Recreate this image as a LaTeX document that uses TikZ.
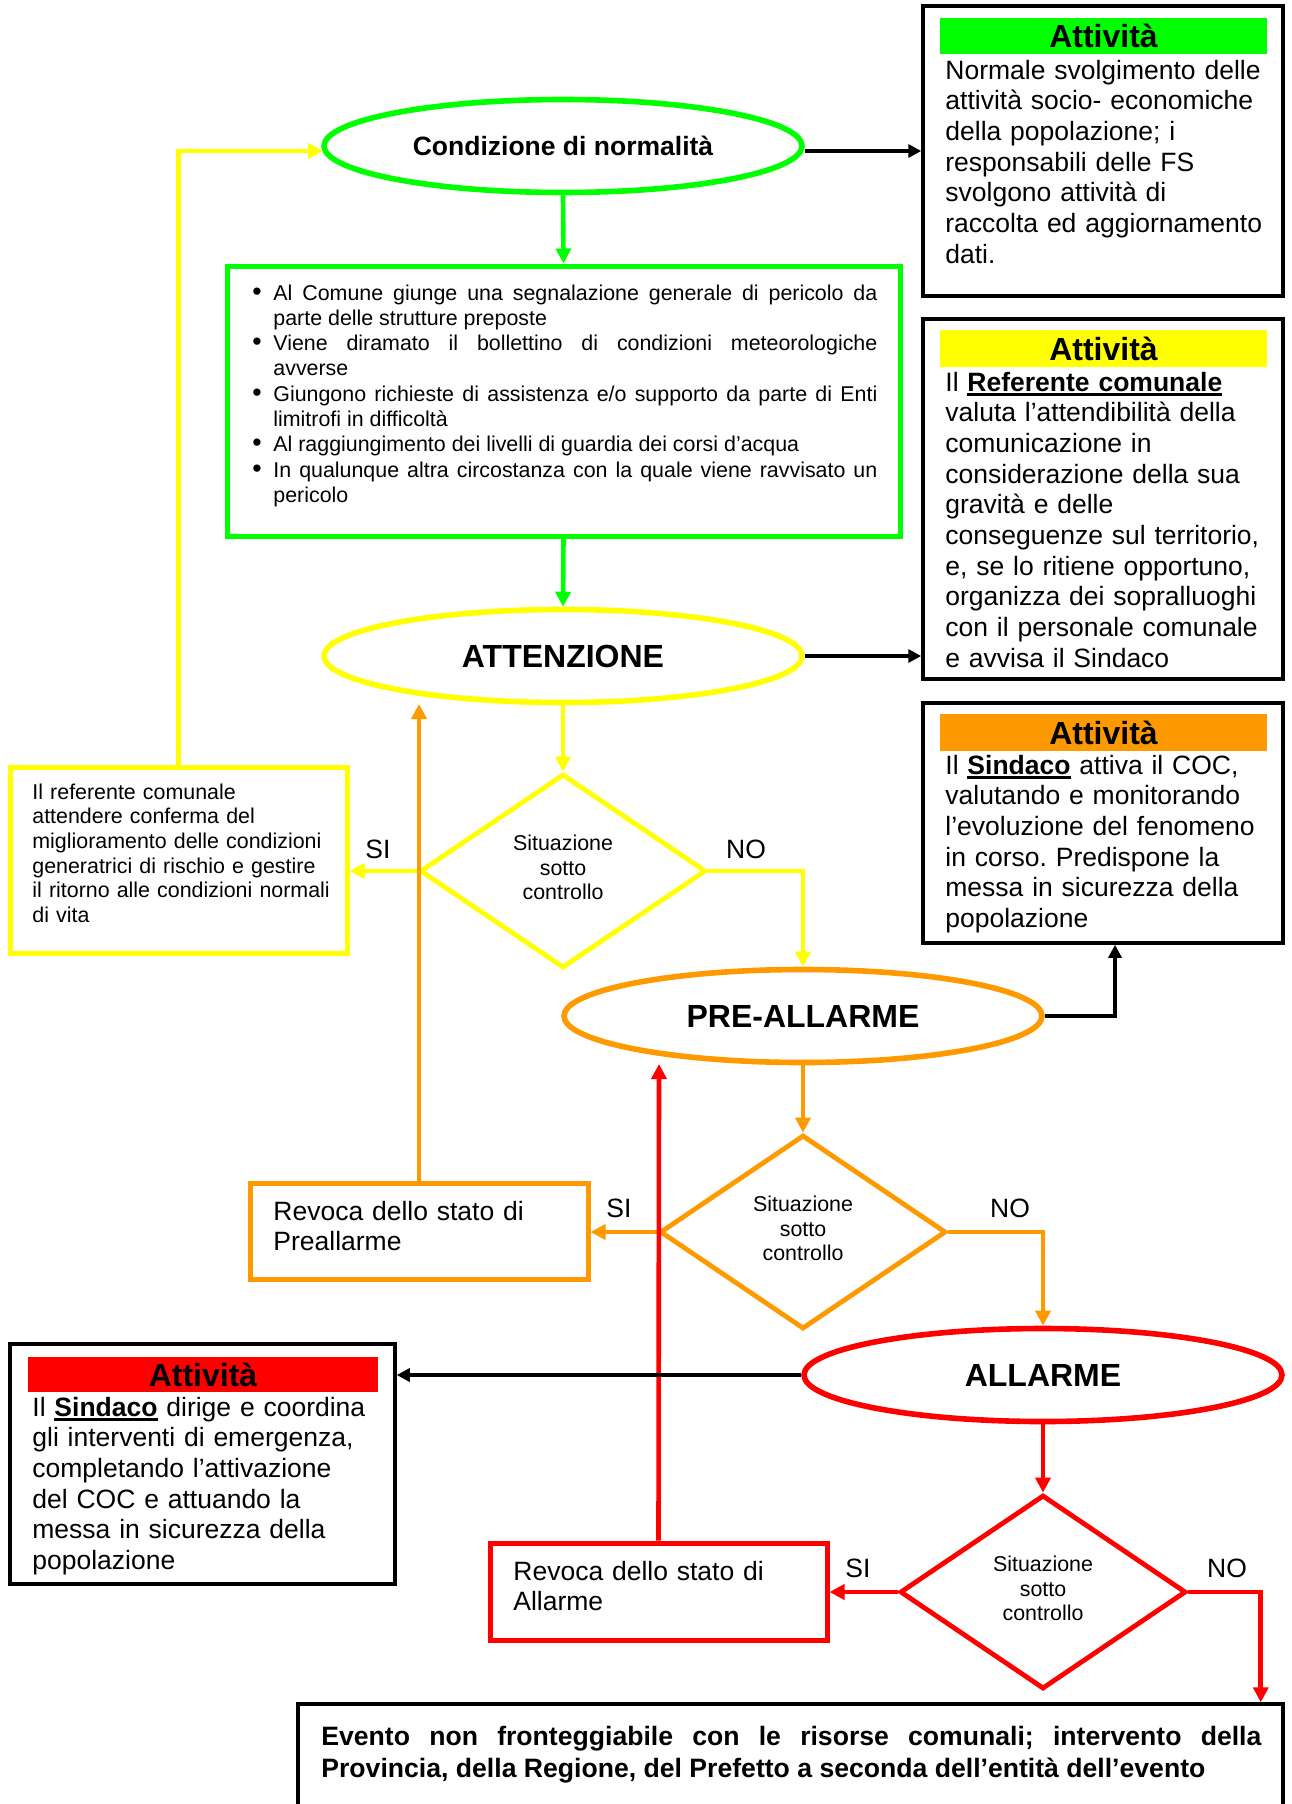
\documentclass[tikz,border=0pt]{standalone}
\usepackage{fontspec}
\setmainfont{Liberation Sans}
\usetikzlibrary{arrows.meta,shapes.geometric,calc}
\frenchspacing

\definecolor{cgreen}{RGB}{0,255,0}
\definecolor{cyellow}{RGB}{255,255,0}
\definecolor{corange}{RGB}{255,153,0}
\definecolor{cred}{RGB}{255,0,0}

\newcommand{\bodyfont}{\fontsize{13.25}{15.35}\selectfont}
\newcommand{\smallfont}{\fontsize{10.7}{12.35}\selectfont}
\newcommand{\listfont}{\fontsize{10.7}{12.65}\selectfont}
\newcommand{\headfont}{\fontsize{16}{19}\selectfont\bfseries}
% bold word with a thick underline
\newsavebox{\kwbox}
\newcommand{\keyword}[1]{\sbox{\kwbox}{\bfseries #1}\rlap{\rule[-2.3pt]{\wd\kwbox}{1.1pt}}\usebox{\kwbox}}
% bullet list entries with hanging indent
\newcommand{\firstitem}{\noindent\hangindent=10.5pt\hangafter=1\makebox[10.5pt][l]{\scalebox{1.25}{\textbullet}}}
\newcommand{\bulletitem}{\par\firstitem}
% decision text, lifted slightly inside the diamond
\newcommand{\decision}{Situazione\\sotto\\controllo\rule[-3.5pt]{0pt}{3.5pt}}

\begin{document}
\begin{tikzpicture}[x=0.5pt,y=-0.5pt,
  ell/.style={ellipse, minimum width=239pt, minimum height=46.5pt, inner sep=0pt,
    line width=2.8pt, font=\headfont},
  dia/.style={diamond, aspect=1.5, minimum width=143pt, minimum height=97pt,
    inner sep=0pt, line width=2.4pt, align=center, font=\smallfont},
  actbox/.style={rectangle, inner sep=0pt, line width=1.75pt, draw=black},
  cbox/.style={rectangle, inner sep=0pt, line width=2.5pt},
  bar/.style={rectangle, inner sep=0pt, minimum width=163.5pt, minimum height=18pt,
    font=\headfont},
  txt/.style={inner sep=0pt, anchor=base west, align=left, text width=175pt,
    font=\bodyfont},
  lbl/.style={inner sep=0pt, font=\bodyfont},
  link/.style={line width=2.3pt, -{Triangle[length=7.5pt,width=7.5pt]}},
  blk/.style={line width=1.65pt, draw=black, -{Triangle[length=6.5pt,width=6.5pt]}}]

\useasboundingbox (0,0) rectangle (1291,1804);
\clip (0,0) rectangle (1291,1804);

% ---- main flow ----
\node[ell, draw=cgreen, font={\bodyfont\bfseries}] (cond) at (563,146) {Condizione di normalità};
\node[cbox, draw=cgreen, minimum width=336.5pt, minimum height=135pt] (glist) at (563.5,401) {};
\node[inner sep=0pt, anchor=base west, text width=312.5pt, align=justify, font=\listfont] (gtext) at (252,300) {%
  \firstitem Al Comune giunge una segnalazione generale di pericolo da\linebreak parte delle strutture preposte
  \bulletitem Viene diramato il bollettino di condizioni meteorologiche\linebreak avverse
  \bulletitem Giungono richieste di assistenza e/o supporto da parte di Enti\linebreak limitrofi in difficoltà
  \bulletitem Al raggiungimento dei livelli di guardia dei corsi d’acqua
  \bulletitem In qualunque altra circostanza con la quale viene ravvisato un\linebreak pericolo\par};

\node[ell, draw=cyellow] (att) at (563,656) {ATTENZIONE};
\node[dia, draw=cyellow] (d1) at (563,871) {\decision};
\node[cbox, draw=cyellow, minimum width=168.5pt, minimum height=93pt] (ybox) at (178.5,860) {};
\node[txt, font=\smallfont, text width=165pt] (ytext) at (32,799) {Il referente comunale\\attendere conferma del\\miglioramento delle condizioni\\generatrici di rischio e gestire\\il ritorno alle condizioni normali\\di vita};

\node[ell, draw=corange] (pre) at (803,1016) {PRE-ALLARME};
\node[dia, draw=corange] (d2) at (803,1232) {\decision};
\node[cbox, draw=corange, minimum width=169pt, minimum height=48pt] (rp) at (419,1231) {};
\node[txt] (rptext) at (273,1220) {Revoca dello stato di\\Preallarme};

\node[ell, draw=cred] (all) at (1043,1375) {ALLARME};
\node[dia, draw=cred] (d3) at (1043,1592) {\decision};
\node[cbox, draw=cred, minimum width=168.5pt, minimum height=48.5pt] (ra) at (658.5,1591.5) {};
\node[txt] (ratext) at (513,1580) {Revoca dello stato di\\Allarme};

\node[actbox, minimum width=492.5pt, minimum height=65pt] (bot) at (790.5,1769) {};
\node[inner sep=0pt, anchor=base west, text width=470pt, align=justify,
  font={\fontsize{13.3}{16}\selectfont\bfseries}] (bottext) at (321,1745)
  {Evento non fronteggiabile con le risorse comunali; intervento della\linebreak Provincia, della Regione, del Prefetto a seconda dell’entità dell’evento};

% ---- activity boxes ----
\node[actbox, minimum width=180pt, minimum height=145pt] (act1) at (1103,151) {};
\node[bar, fill=cgreen] (bar1) at (1103.5,36) {Attività};
\node[txt] (t1) at (945,79) {Normale svolgimento delle\\attività socio- economiche\\della popolazione; i\\responsabili delle FS\\svolgono attività di\\raccolta ed aggiornamento\\dati.};

\node[actbox, minimum width=180pt, minimum height=180pt] (act2) at (1103,499) {};
\node[bar, fill=cyellow, minimum height=18.5pt] (bar2) at (1103.5,348.5) {Attività};
\node[txt] (t2) at (945,391) {Il \keyword{Referente comunale}\\valuta l’attendibilità della\\comunicazione in\\considerazione della sua\\gravità e delle\\conseguenze sul territorio,\\e, se lo ritiene opportuno,\\organizza dei sopralluoghi\\con il personale comunale\\e avvisa il Sindaco};

\node[actbox, minimum width=180pt, minimum height=120pt] (act3) at (1103,823) {};
\node[bar, fill=corange, minimum height=18.5pt] (bar3) at (1103.5,732.5) {Attività};
\node[txt] (t3) at (945,774) {Il \keyword{Sindaco} attiva il COC,\\valutando e monitorando\\l’evoluzione del fenomeno\\in corso. Predispone la\\messa in sicurezza della\\popolazione};

\node[actbox, minimum width=192.5pt, minimum height=120pt] (act4) at (202.5,1464) {};
\node[bar, fill=cred, minimum width=175pt, minimum height=17.5pt] (bar4) at (203,1374.5) {Attività};
\node[txt] (t4) at (32,1416) {Il \keyword{Sindaco} dirige e coordina\\gli interventi di emergenza,\\completando l’attivazione\\del COC e attuando la\\messa in sicurezza della\\popolazione};

% ---- decision labels ----
\node[lbl] (si1) at (378,849) {SI};
\node[lbl] (no1) at (746,849) {NO};
\node[lbl] (si2) at (619,1208) {SI};
\node[lbl] (no2) at (1010,1208) {NO};
\node[lbl] (si3) at (858,1568) {SI};
\node[lbl] (no3) at (1227,1568) {NO};

% ---- connector end points ----
\coordinate (c1) at ([yshift=-2.5pt]cond.east);
\coordinate (c2) at ([xshift=1pt,yshift=-2.5pt]cond.west);
\coordinate (attup) at (419,704);
\coordinate (preup) at (659,1064);
\coordinate (act3in) at ([xshift=6pt]act3.south);
\coordinate (botin) at ([xshift=-12pt]bot.north east);

% ---- connectors ----
\draw[blk] (c1) -- (c1 -| act1.west);
\draw[link, cyellow] (ybox.north) |- (c2);
\draw[link, cgreen] (cond.south) -- (glist.north);
\draw[link, cgreen] (glist.south) -- (att.north);
\draw[blk] (att.east) -- (att.east -| act2.west);
\draw[link, cyellow] (att.south) -- (d1.north);
\draw[link, cyellow] (d1.west) -- (d1.west -| ybox.east);
\draw[link, cyellow] (d1.east) -| (pre.north);
\draw[link, corange] (rp.north) -- (attup);
\draw[blk] (pre.east) -| (act3in);
\draw[link, corange] (pre.south) -- (d2.north);
\draw[link, corange] (d2.west) -- (d2.west -| rp.east);
\draw[link, corange] (d2.east) -| (all.north);
\draw[link, cred] (ra.north) -- (preup);
\draw[blk] (all.west) -- (all.west -| act4.east);
\draw[link, cred] (all.south) -- (d3.north);
\draw[link, cred] (d3.west) -- (d3.west -| ra.east);
\draw[link, cred] (d3.east) -| (botin);

\end{tikzpicture}
\end{document}
